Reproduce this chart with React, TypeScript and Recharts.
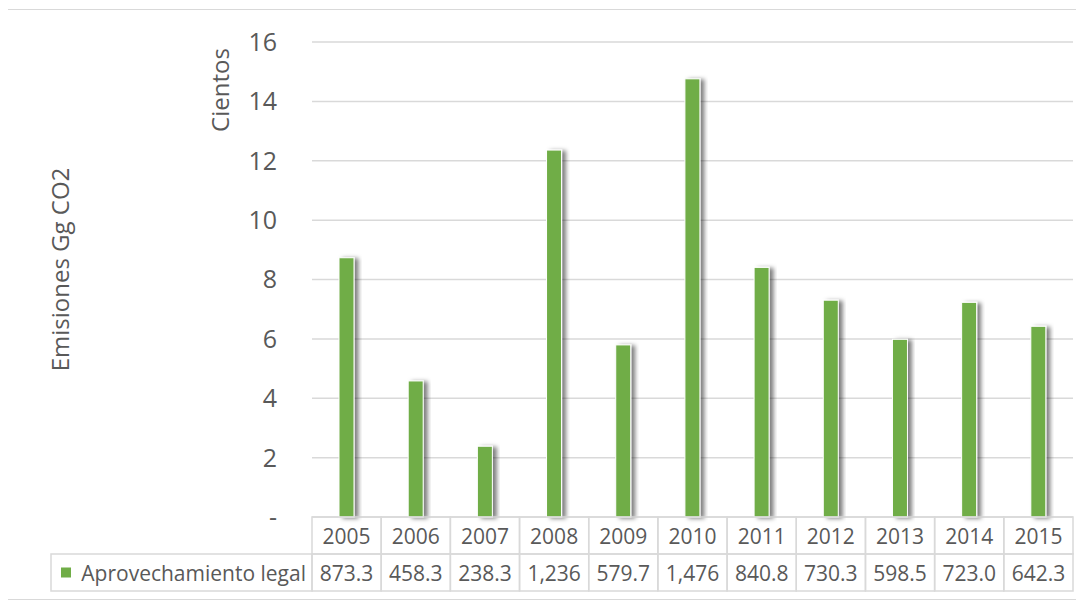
import React from 'react';
import { BarChart, Bar, XAxis, YAxis, CartesianGrid } from 'recharts';

const years = ['2005', '2006', '2007', '2008', '2009', '2010', '2011', '2012', '2013', '2014', '2015'];
const emissions = [873.3, 458.3, 238.3, 1236, 579.7, 1476, 840.8, 730.3, 598.5, 723.0, 642.3];
const tableLabels = ['873.3', '458.3', '238.3', '1,236', '579.7', '1,476', '840.8', '730.3', '598.5', '723.0', '642.3'];
const yTicks = [0, 2, 4, 6, 8, 10, 12, 14, 16];
const seriesName = 'Aprovechamiento legal';

const data = years.map((year, i) => ({ year, value: emissions[i] / 100, label: tableLabels[i] }));

const W = 1068;
const H = 589;
const margin = { top: 32, right: 3, bottom: 8, left: 4 };
const Y_W = 300;
const X_H = 74;
const ROW = 37;
const BAND = (W - margin.left - margin.right - Y_W) / years.length;
const GREEN = '#70ad47';
const TEXT = '#595959';
const LINE = '#d9d9d9';
const FONT = '"Open Sans", sans-serif';

const TableTick = (props: any) => {
  const { x, y, payload, index } = props;
  const left = x - BAND / 2;
  const row = data[index];
  const plotLeft = margin.left + Y_W;
  return (
    <g>
      <rect x={left} y={y} width={BAND} height={ROW} fill="none" stroke={LINE} strokeWidth={1.5} />
      <rect x={left} y={y + ROW} width={BAND} height={ROW} fill="none" stroke={LINE} strokeWidth={1.5} />
      <text x={x} y={y + ROW / 2} textAnchor="middle" dominantBaseline="central" fill={TEXT} fontSize={21} fontFamily={FONT}>
        {payload.value}
      </text>
      <text x={x} y={y + ROW * 1.5} textAnchor="middle" dominantBaseline="central" fill={TEXT} fontSize={21} fontFamily={FONT}>
        {row ? row.label : ''}
      </text>
      {index === 0 && (
        <g>
          <rect x={43} y={y + ROW} width={plotLeft - 43} height={ROW} fill="none" stroke={LINE} strokeWidth={1.5} />
          <rect x={53} y={y + ROW * 1.5 - 5} width={10} height={10} fill={GREEN} />
          <text x={plotLeft - 6} y={y + ROW * 1.5} textAnchor="end" dominantBaseline="central" fill={TEXT} fontSize={21} fontFamily={FONT}>
            {seriesName}
          </text>
        </g>
      )}
    </g>
  );
};

const AxisTitles = (props: any) => {
  const { viewBox } = props;
  const cy = viewBox.y + viewBox.height / 2 - 10;
  return (
    <g>
      <text x={51} y={cy} transform={`rotate(-90, 51, ${cy})`} textAnchor="middle" dominantBaseline="central" fill={TEXT} fontSize={24} fontFamily={FONT}>
        Emisiones Gg CO2
      </text>
      <text x={211} y={80} transform="rotate(-90, 211, 80)" textAnchor="middle" dominantBaseline="central" fill={TEXT} fontSize={24} fontFamily={FONT}>
        Cientos
      </text>
    </g>
  );
};

const ShadowBar = (props: any) => {
  const { x, y, width, height } = props;
  return <rect x={x} y={y} width={width} height={height} fill={GREEN} stroke="#fff" strokeWidth={1} filter="url(#barShadow)" />;
};

const App: React.FC = () => {
  return (
    <div style={{ width: W, height: H, border: `1px solid ${LINE}`, marginLeft: -1, marginTop: 1, background: '#fff' }}>
      <BarChart width={W} height={H} data={data} margin={margin}>
        <defs>
          <filter id="barShadow" x="-50%" y="-10%" width="200%" height="120%">
            <feDropShadow dx={4} dy={1} stdDeviation={2} floodColor="#000" floodOpacity={0.5} />
          </filter>
        </defs>
        <CartesianGrid vertical={false} stroke={LINE} strokeWidth={1.5} />
        <XAxis
          dataKey="year"
          height={X_H}
          axisLine={false}
          tickLine={false}
          tickSize={0}
          tickMargin={0}
          interval={0}
          tick={<TableTick />}
        />
        <YAxis
          width={Y_W}
          domain={[0, 16]}
          ticks={yTicks}
          axisLine={false}
          tickLine={false}
          tickSize={0}
          tickMargin={35}
          tickFormatter={(v: number) => (v === 0 ? '-' : String(v))}
          tick={{ fill: TEXT, fontSize: 25, fontFamily: FONT }}
          label={<AxisTitles />}
        />
        <Bar dataKey="value" barSize={15} shape={<ShadowBar />} isAnimationActive={false} />
      </BarChart>
    </div>
  );
};

export default App;
